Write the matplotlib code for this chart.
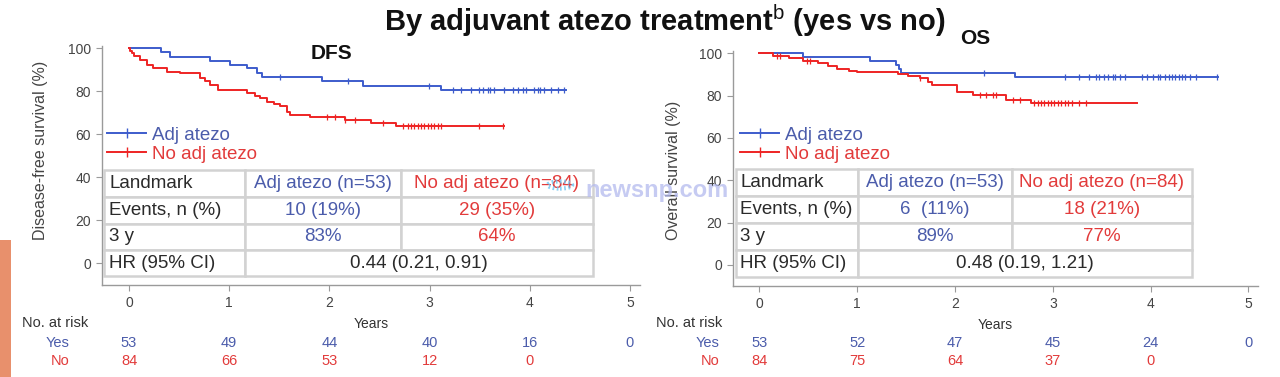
import matplotlib
matplotlib.use("Agg")
import matplotlib.pyplot as plt
import matplotlib.transforms as mtransforms
from matplotlib.patches import Rectangle, Circle
from matplotlib.lines import Line2D
import numpy as np

plt.rcParams['font.family'] = ['Liberation Sans', 'DejaVu Sans']
plt.rcParams['mathtext.fontset'] = 'custom'
plt.rcParams['mathtext.rm'] = 'Liberation Sans'
plt.rcParams['mathtext.bf'] = 'Liberation Sans:bold'

# ---- data ----
years = [0, 1, 2, 3, 4, 5]

# DFS, adjuvant atezo (blue)
dfs_yes_t = [0, 0.32, 0.41, 0.81, 1.01, 1.18, 1.28, 1.33, 1.93, 2.34, 3.11, 4.36]
dfs_yes_s = [100, 98.0, 96.0, 94.0, 92.0, 90.5, 88.6, 86.6, 84.5, 82.5, 80.5, 80.5]
dfs_yes_cens = [1.51, 2.19, 2.99, 3.23, 3.31, 3.41, 3.49, 3.53, 3.58, 3.60, 3.64, 3.74,
                3.83, 3.88, 3.93, 3.96, 4.04, 4.08, 4.10, 4.14, 4.21, 4.28, 4.34]
# DFS, no adjuvant atezo (red)
dfs_no_t = [0, 0.01, 0.03, 0.05, 0.11, 0.18, 0.24, 0.38, 0.51, 0.71, 0.76, 0.81, 0.89,
            1.18, 1.26, 1.31, 1.38, 1.45, 1.51, 1.58, 1.61, 1.81, 2.16, 2.41, 2.66, 3.74]
dfs_no_s = [100, 98.8, 97.6, 96.2, 94.4, 92.0, 90.7, 89.0, 88.3, 86.0, 84.5, 82.9, 80.6,
            79.0, 77.8, 76.7, 75.0, 74.0, 73.0, 70.5, 69.0, 68.0, 66.7, 65.0, 63.6, 63.6]
dfs_no_cens = [1.98, 2.06, 2.16, 2.26, 2.53, 2.73, 2.78, 2.81, 2.84, 2.88, 2.91, 2.94,
               2.98, 3.01, 3.04, 3.08, 3.11, 3.49, 3.73]

# OS, adjuvant atezo (blue)
os_yes_t = [0, 0.45, 1.13, 1.40, 1.43, 1.45, 2.61, 4.69]
os_yes_s = [100, 98.1, 96.2, 94.3, 92.5, 90.6, 88.7, 88.7]
os_yes_cens = [2.30, 3.12, 3.27, 3.37, 3.44, 3.47, 3.52, 3.56, 3.61, 3.64, 3.69, 3.74,
               3.91, 3.96, 4.02, 4.07, 4.10, 4.15, 4.19, 4.22, 4.25, 4.29, 4.32, 4.35,
               4.40, 4.46, 4.68]
# OS, no adjuvant atezo (red)
os_no_t = [0, 0.14, 0.30, 0.45, 0.60, 0.70, 0.79, 0.92, 1.00, 1.42, 1.52, 1.64, 1.72,
           1.76, 2.02, 2.18, 2.52, 2.78, 3.86]
os_no_s = [100, 98.8, 97.6, 96.4, 95.2, 94.0, 92.8, 91.6, 91.0, 90.2, 89.4, 88.1, 86.6,
           85.0, 81.8, 80.3, 78.0, 76.7, 76.7]
os_no_cens = [0.18, 0.21, 0.49, 0.52, 1.64, 2.25, 2.32, 2.39, 2.42, 2.59, 2.66, 2.81,
              2.85, 2.88, 2.91, 2.95, 2.98, 3.01, 3.05, 3.08, 3.12, 3.15, 3.20, 3.27, 3.34]

# landmark tables
table_header = ['Landmark', 'Adj atezo (n=53)', 'No adj atezo (n=84)']
row_labels = ['Events, n (%)', '3 y', 'HR (95% CI)']
dfs_events = ['10 (19%)', '29 (35%)']
dfs_3y = ['83%', '64%']
dfs_hr = '0.44 (0.21, 0.91)'
os_events = ['6  (11%)', '18 (21%)']
os_3y = ['89%', '77%']
os_hr = '0.48 (0.19, 1.21)'

# number at risk
dfs_risk_yes = [53, 49, 44, 40, 16, 0]
dfs_risk_no = [84, 66, 53, 12, 0]
os_risk_yes = [53, 52, 47, 45, 24, 0]
os_risk_no = [84, 75, 64, 37, 0]

BLUE = '#3d5ccc'
RED = '#ee2424'
BLUE_TXT = '#4b5cab'
RED_TXT = '#e23b3b'
EDGE = '#d2d2d2'
AXC = '#9a9a9a'
TXT = '#2a2a2a'


def censor_y(t, s, cens):
    idx = np.searchsorted(t, cens, side='right') - 1
    return np.array(s)[idx]


def panel(ax, fig, curves, events, three_y, hr, xcols, yrows, risk_yes, risk_no,
          ylabel, ylab_y, leg_anchor, risk_x):
    for t, s, cens, col in curves:
        ax.step(t, s, where='post', color=col, lw=1.4, zorder=3)
        ax.plot(cens, censor_y(t, s, cens), ls='none', marker='|', ms=5, mew=0.9,
                color=col, zorder=3)

    ax.set_xlim(-0.27, 5.1)
    ax.set_ylim(-10, 104)
    ax.set_xticks(years)
    ax.set_yticks([0, 20, 40, 60, 80, 100])
    for sp in ['top', 'right']:
        ax.spines[sp].set_visible(False)
    for sp in ['left', 'bottom']:
        ax.spines[sp].set_color(AXC)
        ax.spines[sp].set_linewidth(1.0)
    ax.spines['left'].set_bounds(-10, 101)
    ax.tick_params(colors=AXC, labelcolor='#444444', labelsize=10, length=4, pad=4)
    ax.set_xlabel('Years', fontsize=10, color='#333333', labelpad=5)
    ax.set_ylabel(ylabel, fontsize=11.5, color='#444444')
    ax.yaxis.set_label_coords(-0.1, ylab_y)

    # legend
    handles = [Line2D([0], [0], color=BLUE, lw=1.4, marker='|', ms=7, mew=1),
               Line2D([0], [0], color=RED, lw=1.4, marker='|', ms=7, mew=1)]
    leg = ax.legend(handles, ['Adj atezo', 'No adj atezo'], loc='upper left',
                    bbox_to_anchor=leg_anchor, frameon=False, fontsize=13.5,
                    handlelength=2.1, handletextpad=0.3, labelspacing=0.1,
                    borderpad=0, borderaxespad=0)
    leg.get_texts()[0].set_color(BLUE_TXT)
    leg.get_texts()[1].set_color(RED_TXT)

    # landmark table
    x0, x1, x2, x3 = xcols
    rows_txt = [
        (table_header[0], table_header[1], table_header[2]),
        (row_labels[0], events[0], events[1]),
        (row_labels[1], three_y[0], three_y[1]),
    ]
    fs = 13.5
    for r in range(4):
        ytop, ybot = yrows[r], yrows[r + 1]
        ymid = (ytop + ybot) / 2
        cells = [(x0, x1), (x1, x2), (x2, x3)] if r < 3 else [(x0, x1), (x1, x3)]
        for (a, b) in cells:
            ax.add_patch(Rectangle((a, ybot), b - a, ytop - ybot, facecolor='white',
                                   edgecolor=EDGE, lw=1.8, zorder=4))
        if r < 3:
            lab, v1, v2 = rows_txt[r]
            ax.text(x0 + 0.05, ymid, lab, ha='left', va='center', fontsize=fs,
                    color=TXT, zorder=5)
            ax.text((x1 + x2) / 2, ymid, v1, ha='center', va='center', fontsize=fs,
                    color=BLUE_TXT, zorder=5)
            ax.text((x2 + x3) / 2, ymid, v2, ha='center', va='center', fontsize=fs,
                    color=RED_TXT, zorder=5)
        else:
            ax.text(x0 + 0.05, ymid, row_labels[2], ha='left', va='center', fontsize=fs,
                    color=TXT, zorder=5)
            ax.text((x1 + x3) / 2, ymid, hr, ha='center', va='center', fontsize=fs,
                    color=TXT, zorder=5)

    # number at risk
    tr = mtransforms.blended_transform_factory(ax.transData, fig.transFigure)
    fig.text(risk_x[0], 0.143, 'No. at risk', ha='left', va='center', fontsize=10.5,
             color='#333333')
    fig.text(risk_x[1], 0.090, 'Yes', ha='right', va='center', fontsize=10.5, color=BLUE_TXT)
    fig.text(risk_x[1], 0.042, 'No', ha='right', va='center', fontsize=10.5, color=RED_TXT)
    for yr, n in zip(years, risk_yes):
        ax.text(yr, 0.090, str(n), transform=tr, ha='center', va='center',
                fontsize=10.5, color=BLUE_TXT)
    for yr, n in zip(years, risk_no):
        ax.text(yr, 0.042, str(n), transform=tr, ha='center', va='center',
                fontsize=10.5, color=RED_TXT)


fig = plt.figure(figsize=(12.8, 3.77), dpi=100)
ax1 = fig.add_axes([0.0797, 0.244, 0.4203, 0.6515])
ax2 = fig.add_axes([0.5727, 0.2414, 0.4103, 0.6396])

panel(ax1, fig,
      [(dfs_yes_t, dfs_yes_s, dfs_yes_cens, BLUE), (dfs_no_t, dfs_no_s, dfs_no_cens, RED)],
      dfs_events, dfs_3y, dfs_hr,
      (-0.25, 1.16, 2.71, 4.63), (43.5, 31.0, 18.5, 6.2, -6.0),
      dfs_risk_yes, dfs_risk_no, 'Disease-free survival (%)', 0.55, (0.009, 0.645),
      (0.017, 0.054))
panel(ax2, fig,
      [(os_yes_t, os_yes_s, os_yes_cens, BLUE), (os_no_t, os_no_s, os_no_cens, RED)],
      os_events, os_3y, os_hr,
      (-0.244, 1.01, 2.58, 4.42), (45.1, 32.4, 19.7, 7.0, -5.6),
      os_risk_yes, os_risk_no, 'Overall survival (%)', 0.48, (0.013, 0.66),
      (0.5125, 0.5625))

fig.text(0.519, 0.945, r'By adjuvant atezo treatment$^{\mathrm{b}}$ (yes vs no)',
         ha='center', va='center', fontsize=21, fontweight='bold', color='#111111')
fig.text(0.2586, 0.859, 'DFS', ha='center', va='center', fontsize=15,
         fontweight='bold', color='#111111')
fig.text(0.7617, 0.899, 'OS', ha='center', va='center', fontsize=15,
         fontweight='bold', color='#111111')

# slide decoration and watermark
fig.patches.append(Rectangle((0, 0), 11 / 1280, 137 / 377, transform=fig.transFigure,
                             facecolor='#e8906c', edgecolor='none', figure=fig))
fig.patches.append(Circle((560 / 1280, 1 - 185 / 377), 0.0095, transform=fig.transFigure,
                          facecolor='none', edgecolor='#6ec3f0', lw=3, ls=(0, (0.4, 0.6)),
                          alpha=0.8, figure=fig, zorder=10))
fig.text(585 / 1280, 1 - 190 / 377, 'newsnp.com', ha='left', va='center', fontsize=17,
         fontweight='bold', color='#b4baee', alpha=0.75, zorder=10)

fig.savefig('out.png', dpi=100)
